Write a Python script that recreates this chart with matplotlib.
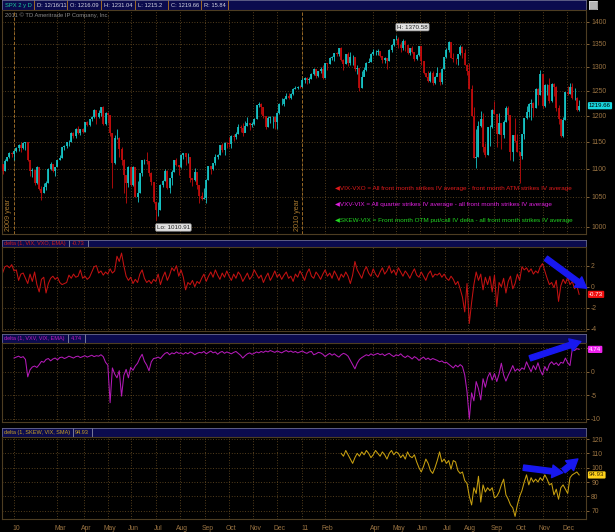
import numpy as np
import pandas as pd
import matplotlib.pyplot as plt
import matplotlib.transforms as mtransforms
from matplotlib.ticker import NullLocator

plt.rcParams['font.family'] = ['Liberation Sans', 'DejaVu Sans']

# ---- sessions of the 2 year daily chart (one plotted bar = two sessions) ----
nyse_holidays = ['2009-12-25', '2010-01-01', '2010-01-18', '2010-02-15', '2010-04-02',
                 '2010-05-31', '2010-07-05', '2010-09-06', '2010-11-25', '2010-12-24',
                 '2011-01-17', '2011-02-21', '2011-04-22', '2011-05-30', '2011-07-04',
                 '2011-09-05', '2011-11-24']
sessions = pd.bdate_range('2009-12-17', '2011-12-16')
sessions = sessions[~sessions.isin(pd.to_datetime(nyse_holidays))]
bar_step = 2
hidden_months = ['2010-02', '2011-03']   # month labels ToS skipped

prev_close = 1109.18
close_px = [
    1096, 1114, 1121, 1128, 1126,                                         # Dec 09
    1133, 1137, 1144, 1137, 1148, 1150, 1116, 1096, 1097, 1074,           # Jan 10
    1103, 1063, 1056, 1068, 1075, 1100, 1109, 1095, 1102,                 # Feb
    1115, 1119, 1139, 1141, 1150, 1150, 1166, 1160, 1174, 1166, 1173, 1169,  # Mar
    1187, 1182, 1194, 1197, 1211, 1197, 1205, 1217, 1183, 1206,           # Apr
    1202, 1166, 1111, 1156, 1157, 1136, 1115, 1088, 1074, 1103,           # May
    1070, 1102, 1050, 1056, 1092, 1115, 1116, 1114, 1092, 1076, 1041,     # Jun
    1027, 1028, 1070, 1078, 1095, 1065, 1083, 1093, 1115, 1106, 1102,     # Jul
    1125, 1128, 1121, 1122, 1083, 1079, 1094, 1071, 1051, 1047, 1048,     # Aug
    1080, 1105, 1099, 1110, 1121, 1125, 1143, 1134, 1148, 1147,           # Sep
    1146, 1160, 1158, 1165, 1178, 1176, 1166, 1180, 1186, 1182, 1183,     # Oct
    1193, 1221, 1223, 1218, 1199, 1178, 1196, 1197, 1198, 1187,           # Nov
    1206, 1224, 1224, 1233, 1240, 1236, 1244, 1254, 1256, 1258, 1257,     # Dec
    1272, 1277, 1272, 1275, 1284, 1296, 1281, 1291, 1296, 1276,           # Jan 11
    1308, 1307, 1319, 1321, 1329, 1328, 1340, 1315, 1306, 1327,           # Feb
    1308, 1321, 1322, 1295, 1297, 1256, 1279, 1293, 1309, 1311, 1328,     # Mar
    1332, 1332, 1334, 1324, 1314, 1320, 1312, 1337, 1347, 1360,           # Apr
    1361, 1347, 1340, 1357, 1348, 1329, 1340, 1333, 1316, 1325, 1345,     # May
    1312, 1287, 1279, 1271, 1288, 1267, 1278, 1288, 1268, 1296, 1321,     # Jun
    1337, 1354, 1320, 1317, 1316, 1327, 1344, 1331, 1305, 1292,           # Jul
    1254, 1200, 1119, 1121, 1179, 1193, 1140, 1124, 1177, 1177, 1212,     # Aug
    1204, 1165, 1186, 1162, 1188, 1216, 1202, 1130, 1162, 1151, 1131,     # Sep
    1123, 1164, 1195, 1207, 1224, 1226, 1216, 1254, 1242, 1285,           # Oct
    1219, 1261, 1261, 1229, 1263, 1258, 1216, 1193, 1161, 1192, 1247,     # Nov
    1244, 1258, 1235, 1236, 1212, 1219.66,                                # Dec
]
high_px = [
    1106, 1118, 1122, 1130, 1130,
    1134, 1140, 1145, 1149, 1149, 1150, 1150, 1103, 1101, 1097,
    1104, 1103, 1069, 1075, 1078, 1101, 1112, 1109, 1103,
    1116, 1125, 1139, 1144, 1150, 1153, 1169, 1169, 1175, 1180, 1174, 1175,
    1187, 1189, 1194, 1199, 1213, 1212, 1211, 1218, 1220, 1207,
    1208, 1202, 1167, 1163, 1173, 1158, 1140, 1117, 1088, 1104,
    1105, 1105, 1102, 1077, 1092, 1116, 1118, 1131, 1114, 1093, 1076,
    1042, 1042, 1072, 1080, 1099, 1097, 1083, 1097, 1116, 1120, 1107,
    1127, 1128, 1128, 1129, 1122, 1083, 1101, 1094, 1071, 1059, 1066,
    1081, 1105, 1104, 1111, 1127, 1127, 1144, 1148, 1149, 1150,
    1158, 1162, 1165, 1168, 1184, 1182, 1185, 1189, 1197, 1186, 1187,
    1196, 1222, 1227, 1226, 1218, 1200, 1200, 1199, 1199, 1199,
    1207, 1225, 1236, 1235, 1246, 1245, 1246, 1255, 1259, 1260, 1261,
    1276, 1278, 1278, 1278, 1287, 1297, 1296, 1292, 1299, 1303,
    1308, 1309, 1322, 1324, 1330, 1333, 1341, 1344, 1317, 1328,
    1332, 1332, 1325, 1322, 1305, 1297, 1291, 1299, 1311, 1320, 1329,
    1338, 1336, 1339, 1335, 1324, 1321, 1320, 1338, 1350, 1361,
    1370.58, 1365, 1355, 1360, 1359, 1343, 1341, 1346, 1333, 1328, 1346,
    1345, 1312, 1288, 1292, 1292, 1292, 1280, 1299, 1290, 1297, 1322,
    1340, 1356, 1353, 1331, 1320, 1328, 1348, 1345, 1338, 1307,
    1308, 1261, 1218, 1173, 1190, 1209, 1205, 1147, 1178, 1182, 1213,
    1230, 1204, 1205, 1186, 1192, 1220, 1220, 1202, 1163, 1195, 1164,
    1131, 1165, 1195, 1220, 1225, 1233, 1228, 1256, 1256, 1293,
    1285, 1263, 1264, 1277, 1266, 1265, 1259, 1221, 1192, 1197, 1247,
    1260, 1266, 1267, 1256, 1238, 1231,
]
low_px = [
    1091, 1096, 1113, 1120, 1121,
    1115, 1131, 1133, 1131, 1135, 1134, 1113, 1086, 1085, 1071,
    1073, 1062, 1044, 1056, 1062, 1075, 1097, 1093, 1086,
    1104, 1116, 1119, 1134, 1138, 1142, 1150, 1157, 1157, 1164, 1163, 1166,
    1169, 1180, 1179, 1189, 1196, 1183, 1196, 1199, 1181, 1181,
    1186, 1161, 1065, 1109, 1154, 1122, 1107, 1056, 1040, 1067,
    1069, 1069, 1049, 1042, 1056, 1087, 1108, 1108, 1086, 1070, 1039,
    1010.91, 1018, 1028, 1068, 1078, 1063, 1056, 1070, 1093, 1104, 1088,
    1101, 1117, 1106, 1111, 1076, 1069, 1078, 1063, 1040, 1045, 1046,
    1040, 1079, 1091, 1098, 1106, 1117, 1125, 1131, 1124, 1138,
    1140, 1137, 1151, 1154, 1165, 1168, 1160, 1168, 1179, 1171, 1177,
    1182, 1193, 1218, 1204, 1195, 1173, 1177, 1185, 1176, 1174,
    1174, 1203, 1222, 1220, 1233, 1233, 1233, 1242, 1253, 1254, 1255,
    1257, 1266, 1263, 1265, 1275, 1282, 1276, 1279, 1287, 1274,
    1276, 1294, 1307, 1314, 1312, 1324, 1324, 1313, 1294, 1306,
    1302, 1305, 1304, 1292, 1285, 1249, 1256, 1280, 1292, 1310, 1310,
    1326, 1326, 1326, 1322, 1309, 1309, 1295, 1312, 1332, 1346,
    1358, 1340, 1332, 1337, 1334, 1327, 1326, 1331, 1312, 1314, 1324,
    1303, 1285, 1278, 1269, 1269, 1262, 1263, 1283, 1262, 1263, 1296,
    1320, 1332, 1318, 1311, 1307, 1303, 1325, 1319, 1304, 1282,
    1253, 1199, 1119, 1101, 1121, 1178, 1131, 1121, 1124, 1141, 1176,
    1203, 1140, 1165, 1136, 1157, 1187, 1191, 1115, 1114, 1150, 1131,
    1074.77, 1117, 1154, 1193, 1198, 1191, 1197, 1215, 1221, 1241,
    1215, 1217, 1241, 1226, 1228, 1239, 1209, 1183, 1158, 1158, 1191,
    1242, 1244, 1234, 1231, 1209, 1209,
]

# delta(1, VIX, VXO, EMA)
vix_vxo = [
    1.3, 1.9, 2.0, 1.8, 2.1, 1.5, 1.6, 0.6, 1.2, 1.3, 0.8,
    0.3, 1.2, 0.5, 1.4, 0.2, -0.5, 0.7, 0.9, -0.6, 0.3, 0.8, 1.0,
    0.7, 0.9, 0.4, 0.2, 0.3, 0.4, 1.1, 0.8, 1.2, 0.9, 1.0, 1.6,
    0.8, 1.0, 0.7, 0.9, 1.4, 1.9, 2.0, 1.3, 1.5, 1.1, 1.4, 1.2, 1.7, 1.3, 1.5,
    2.9, 2.4, 3.2, 2.0, 1.0, 0.6, 0.9, 0.3, 0.7, 0.4, 1.2,
    1.6, 0.8, 0.4, 0.6, 0.3, 0.7, 0.5, 1.2, 0.2, 0.9, 1.4, 0.6,
    1.1, 1.8, 1.5, 2.0, 1.0, 1.6, 0.9, -0.3, 0.4, 0.2, 0.6, 0.0, 0.5, 0.3,
    0.8, 1.2, 0.5, 1.0, 1.4, 0.9, 1.6, 1.1, 0.7, 1.3, 0.9, 1.5, 1.0,
    0.6, 1.2, 0.8, 1.4, 1.1, 0.5, 0.9, 1.3, 0.7, 1.0, 1.6, 1.2, 0.8,
    1.1, 0.4, 0.9, 1.3, 0.6, 1.0, 1.5, 0.9, 1.2, 0.7, 1.1, 1.4, 0.8,
    1.0, 0.5, 1.2, 0.9, 1.5, 1.1, 0.6, 1.3, 1.7, 1.0, 0.8, 1.4, 1.1,
    0.7, 1.2, 1.6, 1.0, 1.3, 0.8, 1.5, 1.1, 0.6, 1.2, 0.9, 1.4, 1.0,
    0.3, 1.1, 2.4, 1.6, 1.2, 0.8, 1.5, 1.9, 1.3, 1.0, 1.7, 1.2, 0.9,
    1.4, 1.8, 1.2, 1.5, 2.0, 1.3, 1.6, 1.1, 1.8, 1.4, 1.0, 1.5, 1.2,
    0.8, 1.3, 1.7, 1.1, 0.9, 1.4, 1.0, 0.6, 1.2, 1.5, 0.9, 1.2,
    1.1, 1.3, 0.9, 1.2, 0.8, 0.6, 1.0, 0.7, 0.2, 0.5, -0.2, -1.0,
    -2.4, 0.3, -3.5, -1.5, 0.2, 1.4, 0.6, 1.2, -0.3, 0.9, 0.2, 1.0,
    -0.5, 1.1, -1.9, 0.4, 0.0, 0.8, -0.6, 0.5, 1.0, -0.2, 0.3, 1.2, 0.6,
    1.9, 1.6, 1.8, 1.4, 1.7, 1.2, 1.5, 1.3, 1.9, 2.2, 1.5, 0.8, 0.2,
    0.4, -0.1, 0.6, -1.4, 0.1, 0.7, 0.3, 0.9, 0.2, 0.5, -0.2, 0.1, -0.73,
]

# delta(1, VXV, VIX, EMA), first value on bar 5
vxv_start = 5
vxv_vix = [
    2.9, 3.1, 3.3, 3.0, 3.2, 2.6, -1.1, 0.4, 1.0, 1.2, 0.9, 1.5, 2.2,
    2.0, 2.6, 2.8, 2.3, 2.7, 2.9, 2.5, 3.0, 3.1, 2.8, 3.0, 3.3, 3.1, 2.9, 3.2,
    3.3, 3.0, 3.2, 3.4, 3.1, 3.3, 3.5, 3.2, 3.4, 3.3, 3.6, 3.2,
    2.0, 1.4, -6.6, 0.8, -0.5, -1.3, 0.2, -5.2, -0.8, 0.5, -1.3,
    0.9, 0.3, 1.2, 1.8, 2.9, 3.7, 2.2, 1.4, 0.2, 2.1, 2.8, 2.9, 3.1, 2.8, 3.4,
    3.9, 4.1, 3.6, 4.0, 3.8, 4.2, 3.9, 4.0, 3.7, 4.1, 3.8, 4.2, 4.0, 3.6, 3.9, 4.1,
    4.0, 4.3, 3.8, 4.1, 4.4, 4.0, 4.2, 3.7, 4.1, 4.3, 3.9, 4.2, 4.0,
    3.8, 4.1, 4.3, 3.9, 3.5, 2.9, 3.4, 3.8, 4.0, 3.7, 3.9, 4.2, 4.0,
    4.3, 4.1, 4.4, 4.2, 4.5, 4.3, 4.1, 4.4, 4.2, 4.0, 4.3, 4.5, 4.2,
    4.4, 4.1, 4.3, 4.0, 4.2, 4.4, 4.1, 3.9, 4.2, 4.3, 3.6, 3.8, 4.1,
    4.0, 3.7, 3.2, 3.6, 3.9, 3.5, 3.8, 3.4, 3.1, 3.6, 3.9, 3.7, 3.3,
    2.4, 1.5, 0.6, 1.8, 2.6, 3.0, 3.3, 3.6, 3.4, 3.8, 3.5, 3.7, 3.9,
    3.6, 3.8, 3.4, 3.7, 3.9, 3.5, 3.2, 3.6, 3.4, 3.8, 3.3, 3.0, 3.4,
    3.1, 2.7, 3.2, 2.9, 2.4, 2.8, 3.1, 2.6, 2.9, 2.5, 2.8, 2.6,
    2.4, 2.1, 2.3, 1.9, 2.0, 1.6, 1.2, 0.8, 1.4, 1.0,
    1.5, 1.1, -0.7, -4.3, -10.0, -4.5, -6.2, -2.1, -3.6, -6.0,
    -1.5, -3.3, -1.2, -0.2, -1.8, -0.4, -2.1, -0.5, 1.8, -0.7,
    -2.0, -0.8, 0.2, 1.3, 0.1, 0.6, 0.2, 0.8, 0.5, 2.1,
    1.0, 0.0, 1.3, 0.4, 1.9, 0.3, -0.7, 1.1, 0.2, 1.6,
    2.1, 1.5, 1.9, 1.3, 2.0, 1.8, 2.9, 1.9, 1.3, 4.8,
    4.5, 4.9, 4.74,
]

# delta(1, SKEW, VIX, SMA), first value on bar 148
skew_start = 148
skew_vix = [
    110, 108, 112, 109, 106, 103, 107, 110, 108, 111, 109, 112, 110,
    107, 109, 112, 110, 108, 111, 109, 106, 110, 112, 109, 111,
    110, 107, 109, 106, 111, 108, 107, 109, 104, 100,
    97, 101, 106, 103, 98, 96, 100, 105, 111, 104,
    106, 103, 105, 99, 105, 104, 98, 96, 97, 91,
    89, 80, 74, 86, 82, 94, 76, 88, 83, 86,
    84, 86, 79, 80, 83, 88, 92, 81, 78, 74,
    72, 66, 74, 80, 84, 90, 95, 88, 93, 90,
    92, 90, 93, 91, 95, 92, 88, 89, 81, 85,
    78, 86, 88, 85, 82, 93, 95, 96, 97, 94.93,
]

price_ticks = list(range(1000, 1401, 50))
vix_ticks = [-4, -2, 0, 2]
vxv_ticks = [-10, -5, 0, 5]
vxv_labels = ['-10', '-5', '0', '']      # the "5" is hidden under the value tag
skew_ticks = [70, 80, 90, 100, 110, 120]

legend_lines = [
    ('\u25C0VIX-VXO = All front month strikes IV average - front month ATM strikes IV average', '#e01a1a'),
    ('\u25C0VXV-VIX = All quarter strikes IV average - all front month strikes IV average', '#e020e0'),
    ('\u25C0SKEW-VIX = Front month OTM put/call IV delta - all front month strikes IV average', '#22d622'),
]
top_cells = ['SPX 2 y D', 'D: 12/16/11', 'O: 1216.09', 'H: 1231.04', 'L: 1215.2', 'C: 1219.66', 'R: 15.84']

assert len(close_px) == len(high_px) == len(low_px) == len(vix_vxo) == 253
assert len(sessions) == 505

# ---------------------------------------------------------------------------
bar_x = np.arange(len(close_px)) * bar_step
open_px = np.array([prev_close] + close_px[:-1])
close_arr = np.array(close_px)
high_arr = np.array(high_px)
low_arr = np.array(low_px)

sess_idx = pd.Series(np.arange(len(sessions)), index=sessions)
firsts = sess_idx.groupby(sessions.to_period('M')).first()
month_pos, month_lab = [], []
for per, pos in firsts.items():
    if pos == 0 or str(per) in hidden_months:
        continue
    month_pos.append(pos)
    month_lab.append(f'{per.year % 100:02d}' if per.month == 1 else per.strftime('%b'))
year_pos = [firsts[p] for p in firsts.index if p.month == 1]

W, H = 615, 532
fig = plt.figure(figsize=(W / 100, H / 100), dpi=100, facecolor='black')


def px_rect(x0, y0, x1, y1):
    return [x0 / W, 1 - y1 / H, (x1 - x0) / W, (y1 - y0) / H]


tick_col = '#9b7442'
grid_col = '#6e5226'
frame_col = '#4d3d22'
navy = '#0b0b4e'
px_shift = lambda dx, dy=0: mtransforms.ScaledTranslation(dx / 100, dy / 100, fig.dpi_scale_trans)


def panel(y0, y1, ticks, labels):
    ax = fig.add_axes(px_rect(2, y0, 586, y1), zorder=3)
    ax.set_facecolor('black')
    ax.set_xlim(-0.5, 510)
    ax.yaxis.tick_right()
    ax.set_yticks(ticks)
    ax.set_yticklabels(labels)
    ax.yaxis.set_minor_locator(NullLocator())
    ax.set_xticks(month_pos)
    ax.tick_params(axis='x', length=0, labelbottom=False)
    ax.tick_params(axis='y', direction='out', length=2.5, width=0.6, colors=tick_col,
                   labelsize=4.9, pad=1.2)
    ax.grid(True, color=grid_col, ls=(0, (1, 2.2)), lw=0.6)
    for s in ax.spines.values():
        s.set_color(frame_col)
        s.set_linewidth(0.8)
    return ax


def header(y0, y1, cells, seps, sep_color, fs=4.0):
    hax = fig.add_axes(px_rect(2, y0, 586, y1), zorder=1)
    hax.set_xlim(2, 586)
    hax.set_ylim(y1, y0)
    hax.set_facecolor(navy)
    hax.set_xticks([])
    hax.set_yticks([])
    for s in hax.spines.values():
        s.set_color('#6a6a8e')
        s.set_linewidth(0.6)
    for xs in seps:
        hax.axvline(xs, color=sep_color, lw=0.7)
    for x, txt, col in cells:
        hax.text(x, (y0 + y1) / 2 + 0.3, txt, color=col, fontsize=fs, va='center', ha='left')
    return hax


def value_tag(ax, value, text, face, fg):
    tr = mtransforms.blended_transform_factory(ax.transAxes, ax.transData) + px_shift(3)
    ax.text(1.0, value, text, transform=tr, ha='left', va='center', fontsize=4.4, color=fg,
            clip_on=False, zorder=10,
            bbox=dict(boxstyle='round,pad=0.18', fc=face, ec='none'))


# ---- top header ----
header(0, 10, [(5, top_cells[0], '#1fcf9c')] +
       [(x, t, '#d4d4e0') for x, t in zip([37, 70, 104, 138, 171, 204], top_cells[1:])],
       [34, 67, 101, 135, 168, 201, 228], '#a06a28', fs=4.15)
icon = fig.add_axes(px_rect(589, 1, 597, 9), zorder=1)
icon.set_facecolor('#b4b4b4')
icon.set_xticks([]); icon.set_yticks([])
for s in icon.spines.values():
    s.set_color('#e0e0e0'); s.set_linewidth(0.5)

# ---- price panel ----
ax0 = panel(10, 234, price_ticks, [str(t) for t in price_ticks])
ax0.set_yscale('log')
ax0.set_ylim(987.9, 1427.3)
ax0.set_yticks(price_ticks)
ax0.set_yticklabels([str(t) for t in price_ticks])
ax0.yaxis.set_minor_locator(NullLocator())

up = close_arr >= open_px
cols = np.where(up, '#16c6c8', '#c40c0c')
ax0.vlines(bar_x, low_arr, high_arr, colors=cols, lw=0.6, zorder=3)
ax0.vlines(bar_x, np.minimum(open_px, close_arr), np.maximum(open_px, close_arr),
           colors=cols, lw=1.25, zorder=3)

for yp, lab in zip(year_pos, ['2009 year', '2010 year']):
    ax0.axvline(yp, color='#9a6a26', ls=(0, (3, 2)), lw=0.7, zorder=2)
    ax0.text(yp - 1.5, 0.015, lab, transform=ax0.get_xaxis_transform(), rotation=90,
             ha='right', va='bottom', color='#a8782e', fontsize=5.2)

ax0.text(0.005, 0.978, '2011 \u00a9 TD Ameritrade IP Company, Inc.', transform=ax0.transAxes,
         color='#8a8a8a', fontsize=4.2, va='center', ha='left')

for (txt, col), fy in zip(legend_lines, [0.201, 0.133, 0.059]):
    ax0.text(0.570, fy, txt, transform=ax0.transAxes, color=col, fontsize=4.55,
             va='center', ha='left')

ih, il = int(np.argmax(high_arr)), int(np.argmin(low_arr))
box = dict(boxstyle='round,pad=0.2', fc='#e2e2e2', ec='#8c8c8c', lw=0.5)
ax0.annotate(f'H: {high_arr[ih]:.2f}', xy=(bar_x[ih], high_arr[ih]), xytext=(1, 5),
             textcoords='offset pixels', ha='left', va='bottom', fontsize=4.5,
             color='#222222', bbox=box, zorder=6)
ax0.annotate(f'Lo: {low_arr[il]:.2f}', xy=(bar_x[il], low_arr[il]), xytext=(1, -5),
             textcoords='offset pixels', ha='left', va='top', fontsize=4.5,
             color='#222222', bbox=box, zorder=6)
value_tag(ax0, close_arr[-1], f'{close_arr[-1]:.2f}', '#19d8e0', '#000000')

# ---- VIX - VXO ----
header(240, 247, [(4, 'delta (1, VIX, VXO, EMA)', '#d01c1c'), (72, f'{vix_vxo[-1]:.2f}', '#d01c1c')],
       [69, 88], '#7a7a9a')
ax1 = panel(247, 331, vix_ticks, [str(t) for t in vix_ticks])
ax1.set_ylim(-4.22, 3.78)
ax1.plot(bar_x, vix_vxo, color='#c41212', lw=0.75)
value_tag(ax1, vix_vxo[-1], f'{vix_vxo[-1]:.2f}', '#f01010', '#ffffff')

# ---- VXV - VIX ----
header(334, 343, [(4, 'delta (1, VXV, VIX, EMA)', '#c21ec2'), (71, f'{vxv_vix[-1]:.2f}', '#c21ec2')],
       [68, 84.5], '#7a7a9a')
ax2 = panel(343, 422, vxv_ticks, vxv_labels)
ax2.set_ylim(-10.7, 6.1)
ax2.plot(bar_x[vxv_start:vxv_start + len(vxv_vix)], vxv_vix, color='#b41ab8', lw=0.75)
value_tag(ax2, vxv_vix[-1], f'{vxv_vix[-1]:.2f}', '#ee22ee', '#ffffff')

# ---- SKEW - VIX ----
header(428, 437, [(4, 'delta (1, SKEW, VIX, SMA)', '#c9a124'), (75, f'{skew_vix[-1]:.2f}', '#c9a124')],
       [72.5, 92], '#7a7a9a')
ax3 = panel(437, 519, skew_ticks, [str(t) for t in skew_ticks])
ax3.set_ylim(64.2, 121.4)
ax3.plot(bar_x[skew_start:skew_start + len(skew_vix)], skew_vix, color='#c8a010', lw=0.75)
value_tag(ax3, skew_vix[-1], f'{skew_vix[-1]:.2f}', '#ffd21a', '#3a2a00')

ax3.set_xticklabels(month_lab)
ax3.tick_params(axis='x', labelbottom=True, labelsize=4.9, pad=4.2, colors=tick_col)
for lab in ax3.get_xticklabels():
    lab.set_transform(lab.get_transform() + px_shift(2.3))

# ---- blue annotation arrows ----
arrow = dict(arrowstyle='simple,head_width=1.3,head_length=1.1,tail_width=0.55',
             fc='#1818f0', ec='#1818f0', mutation_scale=7, shrinkA=0, shrinkB=0)
ax1.annotate('', xy=(510.6, -0.15), xytext=(475, 2.7), arrowprops=arrow, annotation_clip=False)
ax2.annotate('', xy=(505.5, 6.4), xytext=(461, 2.85), arrowprops=arrow, annotation_clip=False)
ax3.annotate('', xy=(489.8, 96.5), xytext=(455.3, 100.0), arrowprops=arrow, annotation_clip=False)
ax3.annotate('', xy=(502.9, 106.1), xytext=(490.3, 97.9), arrowprops=arrow, annotation_clip=False)

fig.savefig('out.png', dpi=100, facecolor='black')
